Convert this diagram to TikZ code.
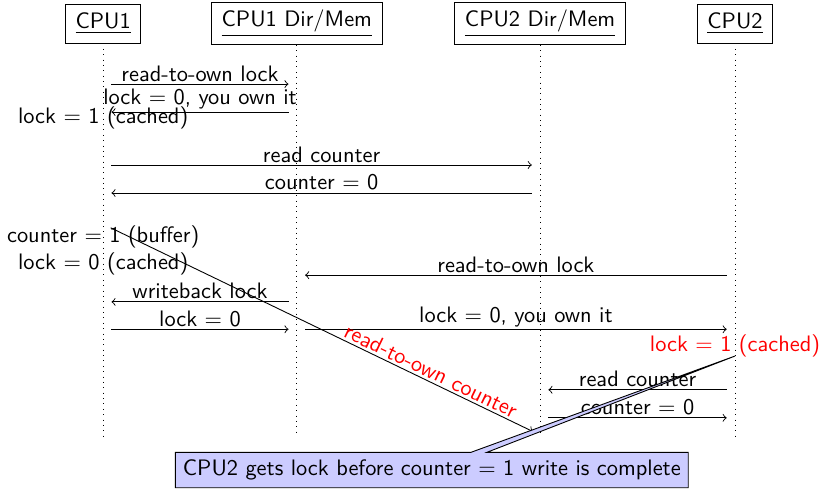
\documentclass[tikz,border=0pt]{standalone}
\renewcommand{\familydefault}{\sfdefault}
\usetikzlibrary{shapes.callouts}
\begin{document}
\begin{tikzpicture}[
            head/.style={rectangle, draw, inner xsep=4.5pt, minimum height=0.61cm},
            life/.style={dotted},
            msg/.style={->, shorten >=0.13cm, shorten <=0.13cm},
            over/.style={above, inner sep=1pt},
            note/.style={rectangle callout, draw, fill=blue!20}
        ]
            \useasboundingbox (0,0) rectangle (12.89,-7.71);

            \node[head] (cpu1) at (1.62,-0.37) {\underline{CPU1}};
            \node[head] (dir1) at (4.66,-0.37) {\underline{CPU1 Dir/Mem}};
            \node[head] (dir2) at (8.48,-0.37) {\underline{CPU2 Dir/Mem}};
            \node[head] (cpu2) at (11.54,-0.37) {\underline{CPU2}};
            \foreach \p in {cpu1,dir1,dir2,cpu2}
                \draw[life] (\p) -- (\p |- 0,-6.86);

            \draw[msg] (cpu1 |- 0,-1.32) -- node[over] {read-to-own lock} (dir1 |- 0,-1.32);
            \draw[msg] (dir1 |- 0,-1.76) -- node[over] {lock $=$ 0, you own it} (cpu1 |- 0,-1.76);
            \node (lock1) at (cpu1 |- 0,-1.85) {lock $=$ 1 (cached)};

            \draw[msg] (cpu1 |- 0,-2.59) -- node[over] {read counter} (dir2 |- 0,-2.59);
            \draw[msg] (dir2 |- 0,-3.03) -- node[over] {counter $=$ 0} (cpu1 |- 0,-3.03);

            \node (cnt1) at (cpu1 |- 0,-3.72) {counter $=$ 1 (buffer)};
            \node (lock0) at (cpu1 |- 0,-4.14) {lock $=$ 0 (cached)};

            \draw[msg] (cpu2 |- 0,-4.32) -- node[over] {read-to-own lock} (dir1 |- 0,-4.32);
            \draw[msg] (dir1 |- 0,-4.74) -- node[over] {writeback lock} (cpu1 |- 0,-4.74);
            \draw[msg] (cpu1 |- 0,-5.17) -- node[over] {lock $=$ 0} (dir1 |- 0,-5.17);
            \draw[msg] (dir1 |- 0,-5.17) -- node[over] {lock $=$ 0, you own it} (cpu2 |- 0,-5.17);
            \node[red] (lock2) at (cpu2 |- 0,-5.43) {lock $=$ 1 (cached)};

            \draw[msg] (cpu2 |- 0,-6.12) -- node[over] {read counter} (dir2 |- 0,-6.12);
            \draw[msg] (dir2 |- 0,-6.56) -- node[over] {counter $=$ 0} (cpu2 |- 0,-6.56);

            % the buffered write races the lock hand-off
            \draw[msg] (cpu1 |- 0,-3.52) -- node[over, sloped, pos=0.74, red] {read-to-own counter} (dir2 |- 0,-6.83);

            \coordinate (race) at (cpu2 |- 0,-5.59);
            \node[note, callout absolute pointer={(race)}] (why) at (6.78,-7.38)
                {CPU2 gets lock before counter $=$ 1 write is complete};
        \end{tikzpicture}
\end{document}
